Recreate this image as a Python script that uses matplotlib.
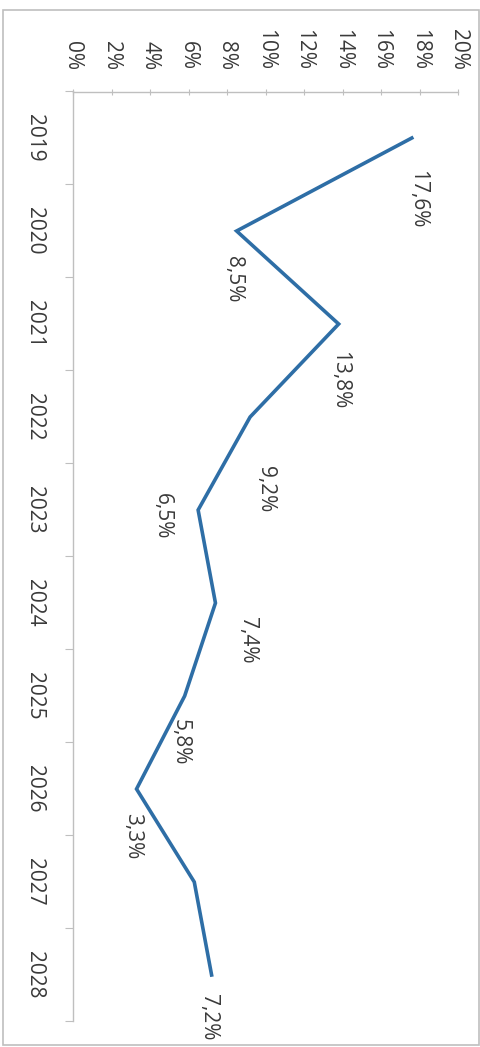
import matplotlib
matplotlib.use("Agg")
import matplotlib.pyplot as plt
import numpy as np
from matplotlib.patches import Rectangle
from matplotlib.ticker import FixedLocator, FuncFormatter

plt.rcParams['font.family'] = ['Open Sans', 'DejaVu Sans']

# growth by year
years = ['2019', '2020', '2021', '2022', '2023', '2024', '2025', '2026', '2027', '2028']
growth = [17.6, 8.5, 13.8, 9.2, 6.5, 7.4, 5.8, 3.3, 6.3, 7.2]
labelled = [True, True, True, True, True, True, True, True, False, True]
pct_ticks = [0, 2, 4, 6, 8, 10, 12, 14, 16, 18, 20]

# where each value label sits relative to its point (pixels, right / down)
label_shift = [(6, 61), (-3, 48), (1, 56), (15, 72), (-36, 6),
               (32, 37), (-5, 46), (-4, 47), (0, 0), (-3, 42)]

text_col = '#3A3A3A'
axis_col = '#BFBFBF'
line_col = '#2E6EA6'

W, H = 480, 1047
fig = plt.figure(figsize=(W / 100, H / 100), dpi=100)
fig.patch.set_facecolor('white')

# chart area frame
fig.patches.append(Rectangle((3 / W, 1 - 1045 / H), 476 / W, 1035 / H,
                             transform=fig.transFigure, fill=False,
                             edgecolor=axis_col, lw=1.2))

ax = fig.add_axes([73 / W, 1 - 1021.5 / H, 385 / W, 930 / H])
pos = np.arange(len(years))
ax.plot(growth, pos, color=line_col, lw=2.6, solid_joinstyle='miter')

ax.set_xlim(0, 20)
ax.set_ylim(len(years) - 0.5, -0.5)

# value axis along the top
ax.xaxis.set_ticks_position('top')
ax.xaxis.set_major_locator(FixedLocator(pct_ticks))
ax.xaxis.set_major_formatter(FuncFormatter(lambda v, p: f'{v:.0f}%'))
ax.tick_params(axis='x', direction='inout', length=5, width=0.8, color=axis_col,
               pad=13, labelsize=15, labelcolor=text_col, labelrotation=-90)
for lab in ax.get_xticklabels():
    lab.set_va('bottom')
    lab.set_ha('center')

# category axis on the left
ax.set_yticks(pos)
ax.set_yticklabels(years)
ax.set_yticks(np.arange(len(years) + 1) - 0.5, minor=True)
ax.tick_params(axis='y', which='major', length=0, pad=20, labelsize=15,
               labelcolor=text_col, labelrotation=-90)
ax.tick_params(axis='y', which='minor', length=6, width=0.8, color=axis_col)
for lab in ax.get_yticklabels():
    lab.set_va('center')

for side in ['right', 'bottom']:
    ax.spines[side].set_visible(False)
for side in ['left', 'top']:
    ax.spines[side].set_color(axis_col)
    ax.spines[side].set_linewidth(1.0)

for v, p, show, (dx, dy) in zip(growth, pos, labelled, label_shift):
    if not show:
        continue
    ax.annotate(f'{v:.1f}'.replace('.', ',') + '%', xy=(v, p),
                xytext=(dx, -dy), textcoords='offset pixels',
                ha='center', va='center', rotation=-90,
                fontsize=15, color=text_col)

fig.savefig('out.png', dpi=100)
